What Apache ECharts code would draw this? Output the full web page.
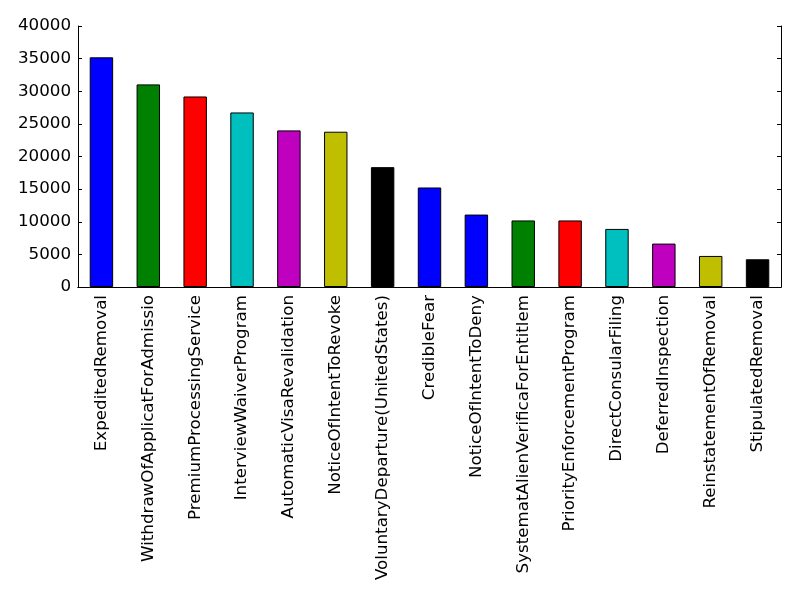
<!DOCTYPE html>
<html>
<head>
<meta charset="utf-8">
<script src="https://cdn.jsdelivr.net/npm/echarts@6/dist/echarts.min.js"></script>
<style>html,body{margin:0;padding:0;background:#fff}#c{width:800px;height:600px}</style>
</head>
<body>
<div id="c"></div>
<script>
var categories = ["ExpeditedRemoval","WithdrawOfApplicatForAdmissio","PremiumProcessingService","InterviewWaiverProgram","AutomaticVisaRevalidation","NoticeOfIntentToRevoke","VoluntaryDeparture(UnitedStates)","CredibleFear","NoticeOfIntentToDeny","SystematAlienVerificaForEntitlem","PriorityEnforcementProgram","DirectConsularFiling","DeferredInspection","ReinstatementOfRemoval","StipulatedRemoval"];
var values = [35200, 31050, 29200, 26750, 24000, 23800, 18370, 15250, 11100, 10200, 10200, 8900, 6650, 4760, 4250];
var barColors = ["#0000ff","#008000","#ff0000","#00bfbf","#bf00bf","#bfbf00","#000000","#0000ff","#0000ff","#008000","#ff0000","#00bfbf","#bf00bf","#bfbf00","#000000"];
var yTicks = [0, 5000, 10000, 15000, 20000, 25000, 30000, 35000, 40000];

var chart = echarts.init(document.getElementById('c'));
var font = 'DejaVu Sans';
var fs = 16.7;
chart.setOption({
  animation: false,
  backgroundColor: '#fff',
  grid: {left: 78, right: 19, top: 26, bottom: 313, containLabel: false},
  xAxis: [{
    type: 'category', data: categories, position: 'bottom',
    axisLine: {lineStyle: {color: '#000', width: 1}},
    axisTick: {inside: true, alignWithLabel: true, length: 4, lineStyle: {color: '#000'}},
    axisLabel: {rotate: 90, color: '#000', fontFamily: font, fontSize: fs, margin: 8, interval: 0}
  }, {
    type: 'category', data: categories, position: 'top',
    axisLine: {lineStyle: {color: '#000', width: 1}},
    axisTick: {inside: true, alignWithLabel: true, length: 4, lineStyle: {color: '#000'}},
    axisLabel: {show: false}
  }],
  yAxis: [{
    type: 'value', min: yTicks[0], max: yTicks[yTicks.length - 1], interval: yTicks[1] - yTicks[0], position: 'left',
    axisLine: {show: true, lineStyle: {color: '#000', width: 1}},
    axisTick: {show: true, inside: true, length: 4, lineStyle: {color: '#000'}},
    axisLabel: {color: '#000', fontFamily: font, fontSize: fs, margin: 7, formatter: function (v) { return String(v); }},
    splitLine: {show: false}
  }, {
    type: 'value', min: yTicks[0], max: yTicks[yTicks.length - 1], interval: yTicks[1] - yTicks[0], position: 'right',
    axisLine: {show: true, lineStyle: {color: '#000', width: 1}},
    axisTick: {show: true, inside: true, length: 4, lineStyle: {color: '#000'}},
    axisLabel: {show: false},
    splitLine: {show: false}
  }],
  series: [{
    type: 'bar', barWidth: '50%', xAxisIndex: 0, yAxisIndex: 0,
    data: values.map(function (v, i) {
      return {value: v, itemStyle: {color: barColors[i], borderColor: '#000', borderWidth: 1}};
    })
  }]
});
</script>
</body>
</html>
